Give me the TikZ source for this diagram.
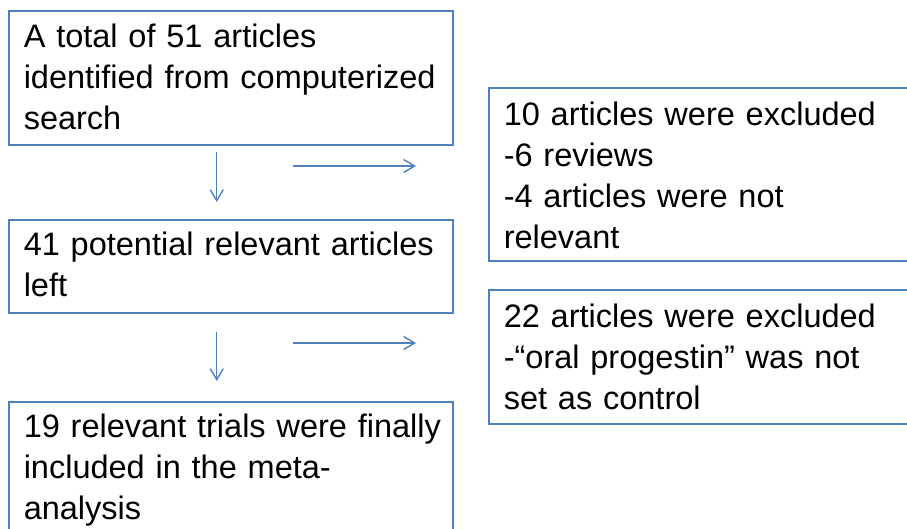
\documentclass[tikz,border=0pt]{standalone}
\usepackage{fontspec}
\setmainfont[WordSpace=0.82]{Liberation Sans}
\usetikzlibrary{arrows.meta, positioning}
\definecolor{boxblue}{HTML}{4F81BD}
\hyphenpenalty=10000
\exhyphenpenalty=10000

\begin{document}
\begin{tikzpicture}[x=1pt, y=-1pt,
    stepbox/.style={draw=boxblue, line width=1.5pt, rectangle, anchor=north west,
        inner xsep=15pt, inner ysep=0pt, align=left,
        font=\fontsize{32.5}{40.8}\selectfont},
    flow/.style={draw=boxblue, line width=1.4pt, -{Straight Barb[length=11pt, width=13pt]}}]
    \useasboundingbox (0,0) rectangle (907,528);

    % Nodes
    \node (search) [stepbox, text width=414pt, text height=37pt, text depth=97pt] at (8,10)
        {A total of 51 articles\\identified from computerized\\search};
    \node (left) [stepbox, text width=414pt, text height=36pt, text depth=57pt] at (8,219)
        {41 potential relevant articles\\left};
    \node (final) [stepbox, text width=414pt, text height=36pt, text depth=108pt] at (8,401)
        {\mbox{19 relevant trials were finally}\\included in the meta-\\analysis};
    \node (excl1) [stepbox, text width=410pt, text height=38pt, text depth=135pt] at (488,87)
        {10 articles were excluded\\-6 reviews\\-4 articles were not\\relevant};
    \node (excl2) [stepbox, text width=410pt, text height=38pt, text depth=96pt] at (488,289)
        {22 articles were excluded\\-\textquotedblleft oral progestin\textquotedblright{} was not\\set as control};

    \coordinate (r1a) at (293,166);
    \coordinate (r1b) at (416,166);
    \coordinate (r2a) at (293,343);
    \coordinate (r2b) at (416,343);

    % Connections
    \draw[flow] ([xshift=-14pt, yshift=-6pt]search.south) -- ([xshift=-14pt, yshift=17pt]left.north);
    \draw[flow] ([xshift=-14pt, yshift=-18pt]left.south) -- ([xshift=-14pt, yshift=20pt]final.north);
    \draw[flow] (r1a) -- (r1b);
    \draw[flow] (r2a) -- (r2b);
\end{tikzpicture}
\end{document}
